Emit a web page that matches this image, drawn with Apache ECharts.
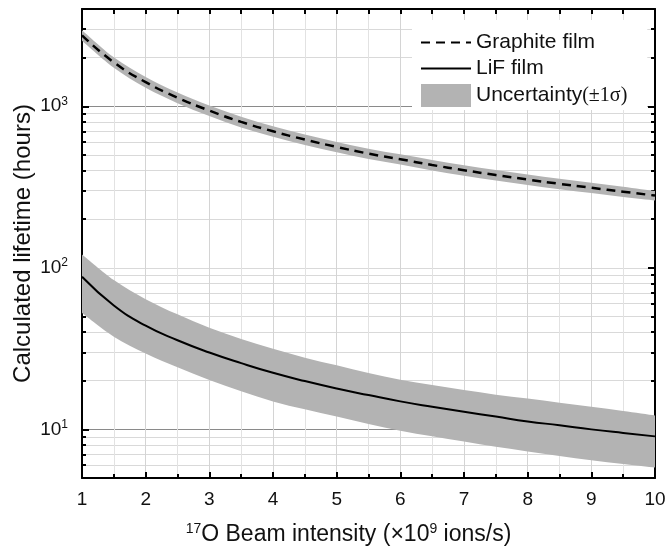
<!DOCTYPE html>
<html>
<head>
<meta charset="utf-8">
<script src="https://cdn.jsdelivr.net/npm/echarts@6/dist/echarts.min.js"></script>
<style>
  html, body { margin: 0; padding: 0; background: #fff; }
  #chart { width: 667px; height: 558px; }
</style>
</head>
<body>
<div id="chart"></div>
<script>
// beam intensity (x10^9 ions/s)
const beamX = [1, 1.5, 2, 2.5, 3, 3.5, 4, 4.5, 5, 5.5, 6, 6.5, 7, 7.5, 8, 8.5, 9, 9.5, 10]

// lifetime in hours
const graphite = [2750, 1870, 1410, 1130, 940, 800, 700, 622, 560, 509, 470, 433, 402, 375, 352, 331, 313, 296, 280]
const graphiteHigh = [2960, 2010, 1520, 1215, 1010, 860, 752, 668, 601, 546, 504, 465, 432, 403, 378, 356, 336, 318, 299]
const graphiteLow = [2540, 1730, 1300, 1045, 870, 740, 648, 576, 519, 472, 436, 401, 372, 347, 326, 306, 290, 274, 261]

const lif = [88, 58.5, 43.8, 35.6, 29.9, 25.7, 22.4, 19.9, 17.9, 16.3, 14.9, 13.8, 12.85, 12.0, 11.2, 10.6, 10.0, 9.5, 9.05]
const lifHigh = [121, 84, 64, 51.5, 42.5, 36.2, 31.5, 27.8, 24.9, 22.3, 20.3, 18.8, 17.5, 16.4, 15.5, 14.6, 13.8, 13.0, 12.2]
const lifLow = [52.5, 37.5, 29.5, 24.2, 20.2, 17.2, 14.9, 13.3, 12.0, 10.8, 9.8, 9.05, 8.4, 7.8, 7.3, 6.85, 6.45, 6.1, 5.8]

// log axis ticks
const majorTicks = [10, 100, 1000]
const minorTicks = [6, 7, 8, 9, 20, 30, 40, 50, 60, 70, 80, 90, 100, 200, 300, 400, 500, 600, 700, 800, 900, 2000, 3000]
const darkLines = [10, 1000]

const FONT = 'Liberation Sans, Arial, sans-serif'
const BAND = '#b3b3b3'

const pairs = (ys) => beamX.map((x, i) => [x, ys[i]])

const chart = echarts.init(document.getElementById('chart'))

const yBase = { type: 'log', logBase: 10, min: 5, max: 4000 }
const axisLineStyle = { show: true, lineStyle: { color: '#000', width: 2 } }
const tickRich = {
  base: { fontSize: 19, fontFamily: FONT, color: '#111' },
  sup: { fontSize: 12, fontFamily: FONT, color: '#111', padding: [0, 0, 10, 0] }
}
const nameRich = {
  base: { fontSize: 23, fontFamily: FONT, color: '#111' },
  sup: { fontSize: 14, fontFamily: FONT, color: '#111', padding: [0, 0, 12, 0] }
}

// catmull-rom through pixel points, so the band edges bend like the lines
const curveTo = (pts) => {
  let d = ''
  for (let i = 0; i < pts.length - 1; i++) {
    const p0 = pts[Math.max(i - 1, 0)]
    const p1 = pts[i]
    const p2 = pts[i + 1]
    const p3 = pts[Math.min(i + 2, pts.length - 1)]
    const c1x = p1[0] + (p2[0] - p0[0]) / 6
    const c1y = p1[1] + (p2[1] - p0[1]) / 6
    const c2x = p2[0] - (p3[0] - p1[0]) / 6
    const c2y = p2[1] - (p3[1] - p1[1]) / 6
    d += ' C' + c1x + ',' + c1y + ' ' + c2x + ',' + c2y + ' ' + p2[0] + ',' + p2[1]
  }
  return d
}

const bandPath = (api, hi, lo) => {
  const top = beamX.map((x, i) => api.coord([x, hi[i]]))
  const bottom = beamX.map((x, i) => api.coord([x, lo[i]])).reverse()
  const d = 'M' + top[0][0] + ',' + top[0][1] + curveTo(top) +
    ' L' + bottom[0][0] + ',' + bottom[0][1] + curveTo(bottom) + ' Z'
  return { type: 'path', shape: { pathData: d }, style: { fill: BAND } }
}

const option = {
  animation: false,
  backgroundColor: '#fff',
  grid: { left: 82, right: 12, top: 9, bottom: 80, outerBoundsMode: 'none' },
  legend: {
    orient: 'vertical',
    left: 412,
    top: 20,
    padding: [12, 20, 3, 8],
    itemGap: 5,
    itemWidth: 50,
    itemHeight: 23,
    backgroundColor: '#fff',
    textStyle: {
      fontSize: 21,
      fontFamily: FONT,
      color: '#111',
      rich: { s: { fontSize: 20, fontFamily: 'Liberation Serif, DejaVu Serif, serif', color: '#111' } }
    },
    formatter: (name) => name === 'Uncertainty' ? 'Uncertainty{s|(±1σ)}' : name,
    data: [
      { name: 'Graphite film', itemStyle: { opacity: 0 } },
      { name: 'LiF film', itemStyle: { opacity: 0 } },
      { name: 'Uncertainty', icon: 'rect', itemStyle: { color: BAND } }
    ]
  },
  xAxis: [
    {
      type: 'value',
      position: 'bottom',
      min: 1,
      max: 10,
      interval: 1,
      name: '{sup|17}{base|O Beam intensity (×10}{sup|9}{base| ions/s)}',
      nameLocation: 'middle',
      nameGap: 44,
      nameTextStyle: { rich: nameRich, padding: [0, 40, 0, 0] },
      axisLine: axisLineStyle,
      axisTick: { inside: true, length: 6, lineStyle: { width: 2, color: '#000' } },
      minorTick: { show: true, splitNumber: 2, length: 4, lineStyle: { width: 2, color: '#000' } },
      axisLabel: { fontSize: 19, fontFamily: FONT, color: '#111', margin: 12 },
      splitLine: { show: true, lineStyle: { color: '#d4d4d4', width: 1 } },
      minorSplitLine: { show: true, lineStyle: { color: '#e2e2e2', width: 1 } }
    },
    {
      type: 'value',
      position: 'top',
      min: 1,
      max: 10,
      interval: 0.5,
      axisLine: axisLineStyle,
      axisTick: { inside: true, length: 5, lineStyle: { width: 2, color: '#000' } },
      axisLabel: { show: false },
      splitLine: { show: false }
    }
  ],
  yAxis: [
    {
      ...yBase,
      position: 'left',
      name: 'Calculated lifetime (hours)',
      nameLocation: 'middle',
      nameGap: 47,
      nameMoveOverlap: false,
      nameTextStyle: { fontSize: 24, fontFamily: FONT, color: '#111' },
      axisLine: axisLineStyle,
      axisTick: { inside: true, length: 7, customValues: majorTicks, lineStyle: { width: 2, color: '#000' } },
      axisLabel: {
        customValues: majorTicks,
        margin: 14,
        rich: tickRich,
        formatter: (v) => '{base|10}{sup|' + Math.round(Math.log10(v)) + '}'
      },
      splitLine: { show: false }
    },
    {
      ...yBase,
      position: 'left',
      axisLine: { show: false },
      axisTick: { inside: true, length: 4, customValues: minorTicks, lineStyle: { width: 2, color: '#000' } },
      axisLabel: { show: false },
      splitLine: { show: true, lineStyle: { color: '#d9d9d9', width: 1 } }
    },
    {
      ...yBase,
      position: 'left',
      axisLine: { show: false },
      axisTick: { show: false, customValues: darkLines },
      axisLabel: { show: false },
      splitLine: { show: true, lineStyle: { color: '#8a8a8a', width: 1.2 } }
    },
    {
      ...yBase,
      position: 'right',
      axisLine: axisLineStyle,
      axisTick: { inside: true, length: 7, customValues: majorTicks, lineStyle: { width: 2, color: '#000' } },
      axisLabel: { show: false },
      splitLine: { show: false }
    },
    {
      ...yBase,
      position: 'right',
      axisLine: { show: false },
      axisTick: { inside: true, length: 4, customValues: minorTicks, lineStyle: { width: 2, color: '#000' } },
      axisLabel: { show: false },
      splitLine: { show: false }
    }
  ],
  series: [
    {
      name: 'Uncertainty',
      type: 'custom',
      coordinateSystem: 'cartesian2d',
      xAxisIndex: 0,
      yAxisIndex: 0,
      itemStyle: { color: BAND },
      data: [[beamX[0], lif[0]]],
      renderItem: (params, api) => ({
        type: 'group',
        children: [
          bandPath(api, graphiteHigh, graphiteLow),
          bandPath(api, lifHigh, lifLow)
        ]
      })
    },
    {
      name: 'Graphite film', type: 'line', smooth: true, symbol: 'none', z: 5,
      data: pairs(graphite),
      itemStyle: { color: '#000' },
      lineStyle: { color: '#000', width: 2.5, type: [9, 6] }
    },
    {
      name: 'LiF film', type: 'line', smooth: true, symbol: 'none', z: 5,
      data: pairs(lif),
      itemStyle: { color: '#000' },
      lineStyle: { color: '#000', width: 2 }
    }
  ]
}

chart.setOption(option)
</script>
</body>
</html>
